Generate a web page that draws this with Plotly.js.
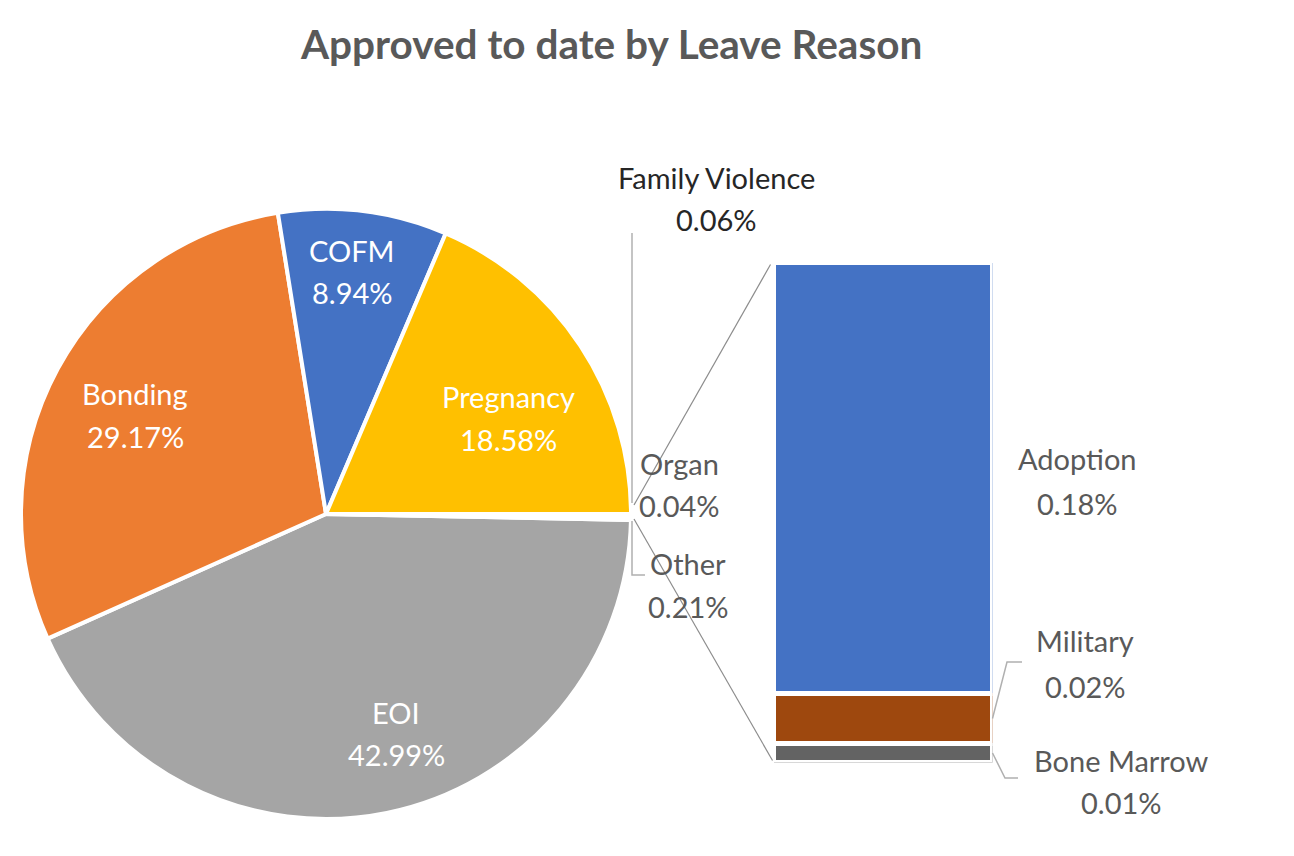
<!DOCTYPE html>
<html><head><meta charset="utf-8">
<script src="https://cdn.plot.ly/plotly-3.0.1.min.js"></script>
<style>html,body{margin:0;padding:0;background:#fff;} #chart{width:1294px;height:856px;}</style>
</head><body><div id="chart"></div>
<script>
// ---- DATA ----
// Pie slices (% of approved leave)
const pieLabels = ['EOI', 'Bonding', 'COFM', 'Pregnancy', 'Family Violence', 'Organ', 'Other'];
const pieValues = [42.99, 29.17, 8.94, 18.58, 0.06, 0.04, 0.21];
const pieColors = ['#A5A5A5', '#ED7D31', '#4472C4', '#FFC000', '#5B9BD5', '#70AD47', '#264478'];
// Breakdown of "Other" shown as stacked bar (bottom to top)
const barLabels = ['Bone Marrow', 'Military', 'Adoption'];
const barValues = [0.008, 0.021, 0.181];
const barColors = ['#636363', '#9E480E', '#4472C4'];
const titleText = 'Approved to date by Leave Reason';

// ---- LAYOUT GEOMETRY (pixels) ----
const W = 1294, H = 856;
const px = x => x / W, py = y => 1 - y / H;
const pie = {cx: 326, cy: 514, r: 305};
const bar = {x0: 773.5, x1: 992.5, yb: 762.5, yt: 262.5};
const barTotal = barValues.reduce((a, b) => a + b, 0);
const pieTotal = pieValues.reduce((a, b) => a + b, 0);
const smallSum = pieValues.slice(4).reduce((a, b) => a + b, 0);
const barY = v => bar.yb - (v / barTotal) * (bar.yb - bar.yt);

const FONT = 'Lato, "Open Sans", sans-serif';
const fmt = v => v.toFixed(2) + '%';

// label positions: [x, yName, yValue, color]
const pieLabelPos = {
  'EOI': [396, 712, 754, '#ffffff'],
  'Bonding': [135, 393, 436, '#ffffff'],
  'COFM': [352, 250, 292, '#ffffff'],
  'Pregnancy': [508, 396, 439, '#ffffff'],
  'Family Violence': [716, 178, 220, '#262626'],
  'Organ': [679, 463, 505, '#595959'],
  'Other': [688, 563, 606, '#595959']
};
const barLabelPos = {
  'Adoption': [1077, 458, 503],
  'Military': [1085, 640, 686],
  'Bone Marrow': [1121, 760, 802]
};

const traces = [{
  type: 'pie',
  labels: pieLabels,
  values: pieValues,
  sort: false,
  direction: 'clockwise',
  rotation: 90 + 360 * smallSum / pieTotal,
  marker: {colors: pieColors, line: {color: '#ffffff', width: 4}},
  textinfo: 'none',
  hoverinfo: 'label+value',
  showlegend: false,
  domain: {x: [px(pie.cx - pie.r), px(pie.cx + pie.r)], y: [py(pie.cy + pie.r), py(pie.cy - pie.r)]}
}];
barValues.forEach((v, i) => {
  traces.push({
    type: 'bar', x: [0], y: [v], width: [1], name: barLabels[i],
    marker: {color: barColors[i], line: {color: '#ffffff', width: 5}},
    hoverinfo: 'name+y', showlegend: false, xaxis: 'x', yaxis: 'y'
  });
});

const annotations = [{
  text: titleText, x: px(611), y: py(44), xref: 'paper', yref: 'paper',
  showarrow: false, xanchor: 'center', yanchor: 'middle',
  font: {family: FONT, size: 40.5, color: '#595959', weight: 700}
}];
function addLabel(name, value, x, y1, y2, color) {
  [[name, y1], [fmt(value), y2]].forEach(([t, y]) => annotations.push({
    text: t, x: px(x), y: py(y), xref: 'paper', yref: 'paper', showarrow: false,
    xanchor: 'center', yanchor: 'middle', font: {family: FONT, size: 29, color: color}
  }));
}
pieLabels.forEach((l, i) => { const p = pieLabelPos[l]; addLabel(l, pieValues[i], p[0], p[1], p[2], p[3]); });
barLabels.forEach((l, i) => { const p = barLabelPos[l]; addLabel(l, barValues[i], p[0], p[1], p[2], '#595959'); });

const pathOf = pts => pts.map((p, i) => (i ? 'L' : 'M') + px(p[0]).toFixed(5) + ',' + py(p[1]).toFixed(5)).join(' ');
const edgeX = pie.cx + pie.r;
const milMid = barY(barValues[0] + barValues[1] / 2);
const boneMid = barY(barValues[0] / 2);
const connColor = '#8c8c8c', leadColor = '#b0b0b0';
const shapes = [
  {type: 'path', path: pathOf([[edgeX + 3, pie.cy - 9], [bar.x0 - 3, bar.yt + 2]]), line: {color: connColor, width: 1.2}},
  {type: 'path', path: pathOf([[edgeX + 3, pie.cy + 5], [bar.x0 - 1, bar.yb - 2]]), line: {color: connColor, width: 1.2}},
  {type: 'path', path: pathOf([[edgeX + 1, 233], [edgeX + 1, pie.cy - 11]]), line: {color: leadColor, width: 1.5}},
  {type: 'path', path: pathOf([[edgeX + 1, pie.cy + 7], [edgeX + 1, 575], [edgeX + 14, 575]]), line: {color: leadColor, width: 1.5}},
  {type: 'path', path: pathOf([[bar.x1, milMid], [1007, 662], [1022, 662]]), line: {color: leadColor, width: 1.5}},
  {type: 'path', path: pathOf([[bar.x1, boneMid], [1005, 778], [1018, 778]]), line: {color: leadColor, width: 1.5}}
].map(s => Object.assign({xref: 'paper', yref: 'paper'}, s));

const layout = {
  width: W, height: H,
  margin: {l: 0, r: 0, t: 0, b: 0},
  paper_bgcolor: '#ffffff', plot_bgcolor: 'rgba(0,0,0,0)',
  barmode: 'stack', bargap: 0,
  showlegend: false,
  xaxis: {domain: [px(bar.x0), px(bar.x1)], range: [-0.5, 0.5], visible: false, fixedrange: true},
  yaxis: {domain: [py(bar.yb), py(bar.yt)], range: [0, barTotal], visible: false, fixedrange: true},
  annotations: annotations,
  shapes: shapes
};
Plotly.newPlot('chart', traces, layout, {displayModeBar: false, staticPlot: true});
</script></body></html>
